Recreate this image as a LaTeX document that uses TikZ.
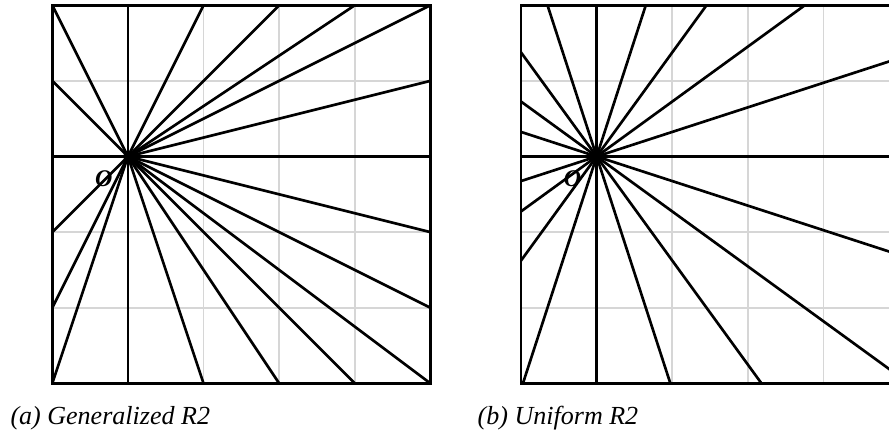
\documentclass[tikz,border=0pt]{standalone}
\usepackage{fontspec}
\setmainfont{Liberation Serif}
\usetikzlibrary{positioning}
\definecolor{gridc}{RGB}{214,214,214}

\begin{document}
\begin{tikzpicture}[
  ray/.style={black, line width=1pt},
  cell/.style={gridc, line width=0.6pt},
  frame/.style={black, line width=1pt},
  origin/.style={circle, fill=black, inner sep=0pt, minimum size=1.3mm},
  olabel/.style={font=\fontsize{9}{11}\selectfont\bfseries\itshape, inner sep=0pt},
  capt/.style={font=\fontsize{9.8}{12}\selectfont\itshape, anchor=base west, inner sep=0pt},
]
\useasboundingbox (-0.692,-0.671) rectangle (11.067,5.070);

% (a) one ray to every grid point on the border
\begin{scope}
  \draw[cell] (0,0) grid (5,5);
  \coordinate (Oa) at (1,3);
  \foreach \k in {0,...,4} {
    \draw[ray] (Oa) -- (\k,0);
    \draw[ray] (Oa) -- (5,\k);
    \draw[ray] (Oa) -- (\k+1,5);
    \draw[ray] (Oa) -- (0,\k+1);
  }
  \draw[frame] (0,0) rectangle (5,5);
  \node[origin] (dota) at (Oa) {};
  \node[olabel] (la) at ([shift={(-0.32,-0.29)}]dota.center) {O};
\end{scope}

% (b) rays at equal angles
\begin{scope}[xshift=6.2cm]
  \draw[cell] (0,0) grid (5,5);
  \coordinate (Ob) at (1,3);
  \begin{scope}
    \clip (0,0) rectangle (5,5);
    \foreach \a in {0,18,...,342}
      \draw[ray] (Ob) -- ++(\a:8);
  \end{scope}
  \draw[frame] (0,0) rectangle (5,5);
  \node[origin] (dotb) at (Ob) {};
  \node[olabel] (lb) at ([shift={(-0.32,-0.29)}]dotb.center) {O};
\end{scope}

\node[capt] (capa) at (-0.56,-0.55) {(a) Generalized R2};
\node[capt] (capb) at (5.62,-0.55) {(b) Uniform R2};
\end{tikzpicture}
\end{document}
